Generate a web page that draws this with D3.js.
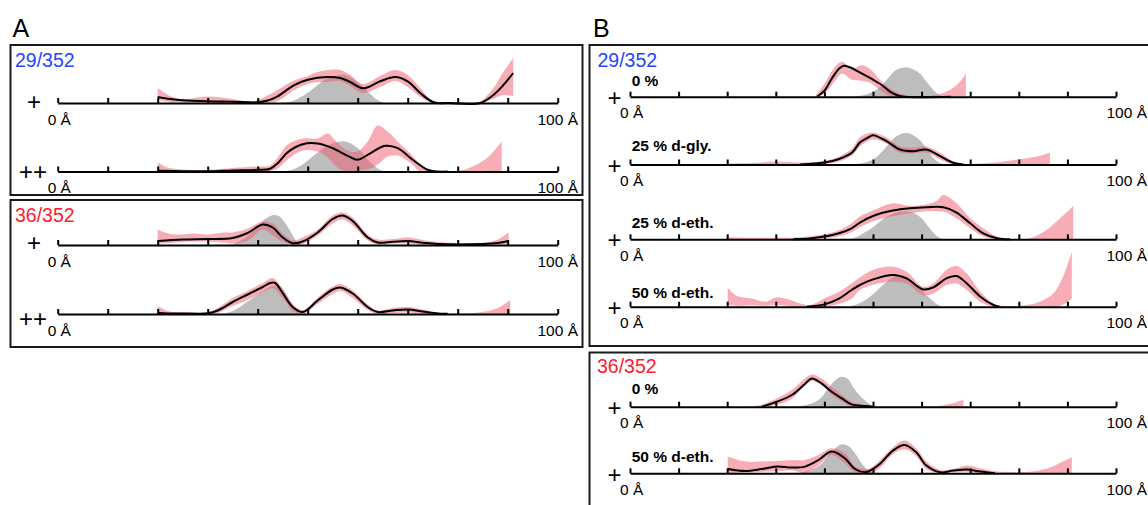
<!DOCTYPE html>
<html>
<head>
<meta charset="utf-8">
<script src="https://cdn.jsdelivr.net/npm/d3@7"></script>
<style>
  html, body { margin: 0; padding: 0; background: #fff; }
  svg { display: block; font-family: "Liberation Sans", Arial, sans-serif; }
</style>
</head>
<body>
<svg id="chart" width="1148" height="505"></svg>
<script>
// ---- distance axis ----
const distTicks = [0, 10, 20, 30, 40, 50, 60, 70, 80, 90, 100];
const distEndLabels = ["0 Å", "100 Å"];
const panelNames = ["A", "B"];
const constructs = ["29/352", "36/352"];
const chargeA = ["+", "++"];
const conditions29 = ["0 %", "25 % d-gly.", "25 % d-eth.", "50 % d-eth."];
const conditions36 = ["0 %", "50 % d-eth."];

// ---- panel A: 29/352, + ----
const a1Fit = [[20,6],[22.5,4],[25,2.7],[30,1.7],[35,1.3],[40,0.7],[42,2.5],[44,6.7],[47.2,17.7],[50,23.3],[54,26],[56.5,25],[58.5,21],[61.2,14.7],[64.5,21.7],[67.5,26],[70,21.7],[72.5,10],[75.2,0.7],[78.5,0],[84.5,0],[87.2,8.3],[89.2,18.3],[91.1,30]];
const a1Band = [[20,3,15],[22.5,1,7],[25,0.3,4],[30,0.3,6.5],[35,0,4],[38,0,1.7],[40,0,3],[44,2,13],[47,12,22],[50,19,27],[52,21,31],[54,21,33],[56.5,22,33],[58.5,17,28],[61,10,19],[64.5,16,27],[67.5,22,33],[70,16,28],[72.5,6,15],[75,0,2],[78,0,0],[84,0,0.5],[87,4,14],[89,8,30],[91.1,7,45]];
const a1Ref = [[45,0],[47,2],[49,7],[50.5,12],[52,18],[53.5,23.5],[55.5,27],[57.2,28.3],[58.5,26],[60,21],[61.5,14],[62.5,9],[63.5,4.5],[64.5,1.5],[65.5,0]];

// ---- panel A: 29/352, ++ ----
const a2Fit = [[20,0.7],[25,0.3],[30,0.2],[35,1],[40,1.7],[42.5,2.7],[44,8.3],[46,19.3],[49,27.3],[52,28],[55,23.3],[58,15.7],[60,11.7],[62,16.7],[65.5,25.7],[68,23.3],[71,11.7],[74,1.7],[76,0],[78,0]];
const a2Band = [[20,0,9],[22,0,4],[25,0,2],[30,0,1.5],[35,0,3.5],[40,0,5],[42.5,0.5,6],[44,3,14],[46,12,27],[49,21,33],[52,20,33],[54,14,38],[55.5,6,31],[57,1,24],[58.5,0,20],[60,1,20],[62,2,30],[64,7,46],[66,15,40],[68,16,30],[70.7,8,17],[72.5,0,7],[74,0,2],[76,0,0],[80,0,0.5],[83,0,5],[86,0,14],[88.8,0,30]];
const a2Ref = [[45,0],[47,2],[49,7],[50.5,13],[52,19],[54,26],[56,29.5],[57.5,30],[59,27],[60.5,21],[62,12],[63.5,5],[64.5,1.5],[65.5,0]];

// ---- panel A: 36/352, + ----
const a3Fit = [[20,4],[25,5.5],[30,6],[35,7],[38,12],[41,20.5],[43,17.5],[45,7.5],[47,1.8],[49,3.5],[52,12.5],[55,26],[57,29.5],[59,24],[62,7.5],[64,2.5],[67,3.3],[70,4],[73,2.3],[76,1],[85,1],[88,2],[90.2,4]];
const a3Band = [[20,1.5,15.5],[22.5,2,11],[25,3,10.5],[27,3.5,11.5],[30,3.5,10.5],[33,2.5,12.5],[35,1.5,12.5],[38,4.5,16.5],[41,15.5,23.5],[43,9.5,21.5],[45,3.5,11.5],[47,0.5,4.5],[49,1,7.5],[52,9.5,15.5],[55,21.5,29.5],[57,25.5,32.5],[59,19.5,27.5],[62,4.5,10.5],[64,0.5,5.5],[67,1.5,6],[70,1.5,7.5],[73,0.5,5],[76,0,3],[80,0,2],[85,0,2],[88,0.5,5.5],[90.2,0.5,12.5]];
const a3Ref = [[34.5,0],[36,3],[38,9],[39.5,16],[41,24],[42.5,29],[43.5,30],[44.5,28],[45.5,22],[46.5,14],[47.3,7],[48,2],[48.6,0]];

// ---- panel A: 36/352, ++ ----
const a4Fit = [[20,1],[22,0.5],[25,0.5],[30,0.8],[32,3.5],[35,12],[38,19.5],[41,27],[42.5,31],[43.5,31],[45,21],[47,7],[49,2],[52,13.5],[55,24.5],[56.5,26.5],[59,20.5],[62,7],[64,2],[67,3.5],[70,4.5],[73,2.5],[76,0.5],[78,0.3]];
const a4Band = [[20,0,8],[22,0,3],[25,0,1.5],[30,0,2],[32,1,6],[35,8,16],[38,14,23],[41,22,31],[43,26,36],[45,16,25],[47,3,10],[49,0,3.5],[52,10,16.5],[55,20,27.5],[56.5,23,30],[59,16,23.5],[62,4,9.5],[64,0,3.5],[67,1,6],[70,1.5,7],[73,0,4.5],[76,0,1.5],[80,0,0.5],[85,0,2],[88,0,6],[90.5,0,14]];
const a4Ref = [[33,0],[35,3],[37,9],[39,16],[41,23],[43,28],[44.5,27.5],[46,17],[47.5,5],[48.5,0]];

// ---- panel B: 29/352, 0 % ----
const b1Fit = [[38.5,0],[40,6],[41.5,18],[43,28],[44,31],[45.5,29],[47,25],[48.5,21],[50,17],[52,11],[53.5,5],[55,1.5],[56.5,0],[66,0]];
const b1Band = [[38,0,0],[40,3,13],[42.2,16,30],[43.6,23,35],[45.7,17,28],[47.7,16,31.5],[49.6,13.5,27],[51.4,6.7,17],[53.5,0.7,8.3],[55.5,0,3.3],[57.6,0,0.7],[60,0,0.5],[63,0,1.7],[65.8,0,6.7],[67.9,0,15],[69.1,0,23.3]];
const b1Ref = [[46,0],[48,1.5],[50,5],[51.5,10],[53,18],[54.5,26],[56,29],[57,29.5],[58,28],[59.7,23],[61,15],[62,9],[63,4],[64,1],[65,0]];

// ---- panel B: 29/352, 25 % d-gly. ----
const b2Fit = [[35,0],[40,2],[43,5.5],[45.7,12],[47.3,22],[49,27],[50,29.3],[52.8,23.3],[55.5,15],[58.3,13.3],[61,15],[63.8,8.3],[66.5,1.7],[68.6,0]];
const b2Band = [[20,0,1],[25,0,1.5],[30,0,3],[35,0,2],[40,0.5,3.5],[43,3,8],[45.7,9,16],[47.3,18,27],[49.8,25,32],[52.8,21,27],[55.5,12,18],[58.3,11,16.7],[61,12,18],[63.8,5,11.7],[66.5,0,3.3],[69,0,0.7],[74.3,0,1.7],[79.8,0,5],[84,0,8.3],[86.4,0,11.7]];
const b2Ref = [[46,0],[48,1.5],[50,5],[51.5,11],[53,19],[54.5,27],[56,31],[57,31.5],[58,30],[59.7,24],[61,16],[62,9],[63,4],[64,1],[65,0]];

// ---- panel B: 29/352, 25 % d-eth. ----
const b3Fit = [[33.6,0],[37,0.8],[40,2.7],[43,6],[45.6,11],[47.3,16.7],[50,23.3],[54.1,28.7],[57.6,31],[61,32],[64.5,32],[67.2,26.7],[70,16],[72.7,6],[75.5,1],[78.2,0]];
const b3Band = [[20,0,2],[25,0,1.5],[30,0,1.5],[35,0,2],[40,1,5],[43,3,9],[45.6,7,16],[47.3,12,22.7],[50,18,28.7],[54.1,23,36],[57.6,26,33.3],[61,28,35],[63,28,38],[64.5,27.7,44.3],[67.2,21,36],[70,11,21],[72.7,2.7,11],[75.5,0,2.7],[78.2,0,0.3],[82.3,0,1],[85.7,0,9.3],[88.5,0,21],[91.2,0,33.3]];
const b3Ref = [[45,0],[46.5,2],[48,6],[50,12],[51.5,18],[53,23],[55,27],[57,28],[58.5,26],[60,21],[61.5,12],[62.5,6],[63.5,2],[64.5,0]];

// ---- panel B: 29/352, 50 % d-eth. ----
const b4Fit = [[36.4,0],[40,2.3],[43,8],[45.6,16.7],[47.3,21.7],[50,27.3],[54.1,31.7],[56.9,28.3],[60.3,17.3],[62.4,19.3],[65.1,28.3],[67.2,30.7],[69.3,23.3],[72.1,10],[74.8,1.7],[76,0]];
const b4Band = [[20.1,2,19],[22,1,10.7],[25,1.5,8.3],[28,1,5],[30,2,9.3],[33,0.5,6.7],[35,0,3.3],[37,0,1.7],[40,0,8.3],[43,3,15],[45.6,8,23.3],[47.3,16.7,29.3],[50,22,36.7],[54.1,25,40],[56.9,23.3,35],[60.3,11.7,20],[62.4,13.3,23.3],[65.1,21.7,36.7],[67.2,23.3,40.7],[69.3,16.7,33.3],[72.1,5,15],[74.8,0,3.3],[77.5,0,0.7],[81.6,0,1.7],[84.3,0,5],[87.1,0,13.3],[89.1,2,30],[90.9,8,55]];
const b4Ref = [[45,0],[47,3],[48.5,7],[50,12.5],[52,21.5],[54,29],[55.5,31.5],[56.5,31],[58,26],[59.5,19],[61,11.5],[62.5,5],[63.5,1.5],[64.5,0]];

// ---- panel B: 36/352, 0 % ----
const b5Fit = [[27.1,0],[30.2,5],[33.3,11.7],[36,22.7],[37.4,28.3],[39.4,23.3],[41.5,15],[43.6,8.3],[45.6,2.3],[48.4,0.7],[50,0]];
const b5Band = [[24.3,0,0],[27,0,2],[30.2,2,8.3],[33.3,8,16.7],[36,21.7,28.3],[37.4,25.7,32.3],[39.4,21.7,28.3],[41.5,12,20],[43.6,5,11.7],[45.6,0,5],[48.4,0,1.7],[52,0,0.5],[60,0,0.3],[63.8,0,1],[66.5,0,3.7],[68.6,0,7]];
const b5Ref = [[34,0],[36,1.5],[38,4.5],[39.5,10],[41,20],[42.5,27.5],[43.6,30],[44.8,28],[46,19],[47.3,11],[48.4,6],[49.5,2],[50.5,0]];

// ---- panel B: 36/352, 50 % d-eth. ----
const b6Fit = [[20.1,4.3],[23.7,2.3],[27.1,4.3],[30.2,6.7],[33.3,5.7],[36,6.7],[38.8,13.3],[41.5,21.7],[44.2,15],[46.3,4.3],[48.4,1],[49.4,2.7],[51.4,9.3],[54.1,22.7],[56.5,28.3],[58.9,21],[61,7.7],[63.8,1],[66.5,2.7],[69.3,3.7],[72.1,1.7],[75.1,0]];
const b6Band = [[20.1,0,16.7],[23.7,0.7,11.7],[27.1,1.5,11.7],[30.2,2,12.3],[33.3,3,13.3],[35,1,13],[36,0,13.3],[38.8,8.3,18.3],[41.5,18.3,25],[44.2,10,20],[46.3,1,6.7],[48.4,0,4.3],[49.4,0,5],[51.4,5,13],[54.1,19,26],[56.5,24,32.7],[58.9,17,25],[61,4,11.7],[63.8,0,3.3],[66.5,1,4.3],[69.3,1.5,7.7],[72.1,0,5],[74.8,0,2.3],[77.8,0,1.3],[82.6,0,1.7],[86,0,5],[88.8,0,11],[90.9,0,16]];
const b6Ref = [[34,0],[36,1.5],[38,5],[39.5,10],[41,19],[42.5,26],[43.6,29],[45,27],[46.3,20],[47.5,11],[48.5,5],[49.5,1.5],[50.5,0]];

// ---------------- layout ----------------
const svg = d3.select("#chart");

const colors = {
  ref: "#bdbdbd",
  band: "#f25a6e",
  fit: "#000",
  c29: "#2346ff",
  c36: "#ff1a2e"
};

const xA = d3.scaleLinear().domain([0, 100]).range([57.7, 557.7]);
const xB = d3.scaleLinear().domain([0, 100]).range([630, 1116]);

// one entry per distance-distribution strip
const rows = [
  { x: xA, axisY: 103,   fit: a1Fit, band: a1Band, ref: a1Ref, sign: chargeA[0], signX: 34, signDy: -1.5, endRight: 578 },
  { x: xA, axisY: 171.5, fit: a2Fit, band: a2Band, ref: a2Ref, sign: chargeA[1], signX: 33, signDy: 0.5, endRight: 578 },
  { x: xA, axisY: 245,   fit: a3Fit, band: a3Band, ref: a3Ref, sign: chargeA[0], signX: 34, signDy: -2.5, endRight: 578 },
  { x: xA, axisY: 314,   fit: a4Fit, band: a4Band, ref: a4Ref, sign: chargeA[1], signX: 33, signDy: 5, endRight: 578 },
  { x: xB, axisY: 96.7,  fit: b1Fit, band: b1Band, ref: b1Ref, sign: chargeA[0], signX: 614.5, signDy: 0.8, endRight: 1147, cond: conditions29[0], condDy: -11 },
  { x: xB, axisY: 164.5, fit: b2Fit, band: b2Band, ref: b2Ref, sign: chargeA[0], signX: 614.5, signDy: 1.3, endRight: 1147, cond: conditions29[1], condDy: -13.5 },
  { x: xB, axisY: 239.3, fit: b3Fit, band: b3Band, ref: b3Ref, sign: chargeA[0], signX: 614.5, signDy: 0.8, endRight: 1147, cond: conditions29[2], condDy: -11 },
  { x: xB, axisY: 306.7, fit: b4Fit, band: b4Band, ref: b4Ref, sign: chargeA[0], signX: 614.5, signDy: 1.3, endRight: 1147, cond: conditions29[3], condDy: -9 },
  { x: xB, axisY: 406.7, fit: b5Fit, band: b5Band, ref: b5Ref, sign: chargeA[0], signX: 614.5, signDy: 1.3, endRight: 1147, cond: conditions36[0], condDy: -12.4 },
  { x: xB, axisY: 473.3, fit: b6Fit, band: b6Band, ref: b6Ref, sign: chargeA[0], signX: 614.5, signDy: 1.3, endRight: 1147, cond: conditions36[1], condDy: -11.6 }
];

// panel frames
const frames = [
  { x: 10.5, y: 45, w: 572, h: 150 },
  { x: 10.5, y: 200, w: 572, h: 147 },
  { x: 589.5, y: 45, w: 620, h: 301 },
  { x: 589.5, y: 352.5, w: 620, h: 200 }
];
svg.append("g").selectAll("rect").data(frames).join("rect")
  .attr("x", d => d.x).attr("y", d => d.y)
  .attr("width", d => d.w).attr("height", d => d.h)
  .attr("fill", "none").attr("stroke", "#1a1a1a").attr("stroke-width", 2);

// panel letters
svg.append("g").selectAll("text").data([
  { t: panelNames[0], x: 12.5 },
  { t: panelNames[1], x: 593 }
]).join("text")
  .attr("x", d => d.x).attr("y", 36.5)
  .attr("font-size", 25).attr("fill", "#000")
  .text(d => d.t);

// construct titles
svg.append("g").selectAll("text").data([
  { t: constructs[0], x: 15, y: 66.5, c: colors.c29 },
  { t: constructs[1], x: 15, y: 222, c: colors.c36 },
  { t: constructs[0], x: 597.5, y: 66.5, c: colors.c29 },
  { t: constructs[1], x: 597, y: 373, c: colors.c36 }
]).join("text")
  .attr("x", d => d.x).attr("y", d => d.y)
  .attr("font-size", 19.5).attr("fill", d => d.c)
  .text(d => d.t);

const smooth = d3.curveCatmullRom.alpha(0.5);

rows.forEach(r => {
  const y = d3.scaleLinear().domain([0, 40]).range([r.axisY, r.axisY - 40]);
  const g = svg.append("g");

  // reference distribution (grey)
  g.append("path")
    .datum(r.ref)
    .attr("fill", colors.ref)
    .attr("d", d3.area()
      .x(d => r.x(d[0]))
      .y0(y(0))
      .y1(d => y(d[1]))
      .curve(smooth));

  // confidence band
  g.append("path")
    .datum(r.band)
    .attr("fill", colors.band)
    .attr("fill-opacity", 0.5)
    .attr("d", d3.area()
      .x(d => r.x(d[0]))
      .y0(d => y(d[1]))
      .y1(d => y(d[2]))
      .curve(smooth));

  // fitted distribution
  g.append("path")
    .datum(r.fit)
    .attr("fill", "none")
    .attr("stroke", colors.fit)
    .attr("stroke-width", 2)
    .attr("stroke-linejoin", "round")
    .attr("d", d3.line()
      .x(d => r.x(d[0]))
      .y(d => y(d[1]))
      .curve(smooth));

  // distance axis with upward ticks
  const ax = g.append("g")
    .attr("transform", `translate(0,${r.axisY})`)
    .call(d3.axisTop(r.x).tickValues(distTicks).tickSize(5).tickSizeOuter(0).tickFormat(() => ""));
  ax.selectAll("path, line").attr("stroke", "#000").attr("stroke-width", 2);

  // axis end labels
  g.append("text")
    .attr("x", r.x(0) - 10).attr("y", r.axisY + 21.5)
    .attr("font-size", 15.5).attr("fill", "#000")
    .text(distEndLabels[0]);
  g.append("text")
    .attr("x", r.endRight).attr("y", r.axisY + 21.5)
    .attr("text-anchor", "end")
    .attr("font-size", 15.5).attr("fill", "#000")
    .text(distEndLabels[1]);

  // charge state
  g.append("text")
    .attr("x", r.signX).attr("y", r.axisY + r.signDy + 8)
    .attr("text-anchor", "middle")
    .attr("font-size", 24).attr("fill", "#000")
    .text(r.sign);

  // solvent condition
  if (r.cond) {
    g.append("text")
      .attr("x", r.x(0) + 1.7).attr("y", r.axisY + r.condDy)
      .attr("font-size", 15.5).attr("font-weight", "bold").attr("fill", "#000")
      .text(r.cond);
  }
});
</script>
</body>
</html>
